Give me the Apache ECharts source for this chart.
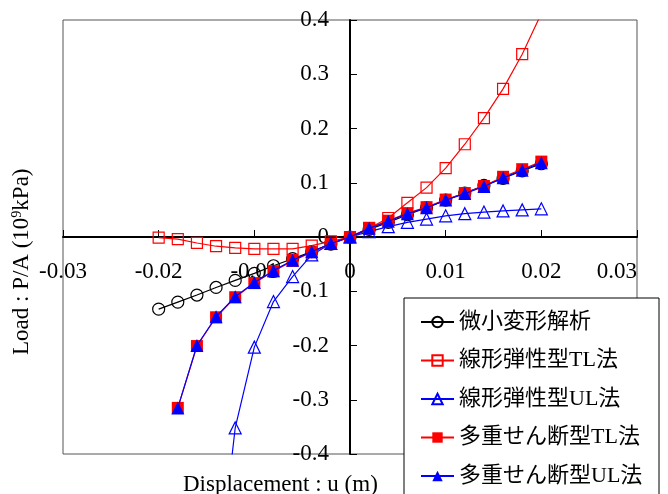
<!DOCTYPE html>
<html>
<head>
<meta charset="utf-8">
<script src="https://cdn.jsdelivr.net/npm/echarts@6/dist/echarts.min.js"></script>
<style>
html,body{margin:0;padding:0;background:#fff;}
#chart{width:668px;height:494px;}
</style>
</head>
<body>
<div id="chart"></div>
<script>
// ---- data ----
var seriesNames = ['微小変形解析', '線形弾性型TL法', '線形弾性型UL法', '多重せん断型TL法', '多重せん断型UL法'];

var xSmall = [-0.02, -0.018, -0.016, -0.014, -0.012, -0.01, -0.008, -0.006, -0.004, -0.002, 0, 0.002, 0.004, 0.006, 0.008, 0.01, 0.012, 0.014, 0.016, 0.018, 0.02];
var ySmall = [-0.133, -0.120, -0.107, -0.093, -0.080, -0.067, -0.053, -0.040, -0.027, -0.013, 0, 0.014, 0.027, 0.041, 0.054, 0.068, 0.081, 0.095, 0.108, 0.122, 0.135];

var xLinTL = [-0.02, -0.018, -0.016, -0.014, -0.012, -0.01, -0.008, -0.006, -0.004, -0.002, 0, 0.002, 0.004, 0.006, 0.008, 0.01, 0.012, 0.014, 0.016, 0.018, 0.02];
var yLinTL = [-0.001, -0.004, -0.011, -0.017, -0.020, -0.022, -0.022, -0.022, -0.016, -0.008, 0, 0.016, 0.035, 0.063, 0.091, 0.127, 0.171, 0.219, 0.273, 0.337, 0.412];

var xLinUL = [-0.014, -0.012, -0.01, -0.008, -0.006, -0.004, -0.002, 0, 0.002, 0.004, 0.006, 0.008, 0.01, 0.012, 0.014, 0.016, 0.018, 0.02];
var yLinUL = [-0.66, -0.352, -0.203, -0.119, -0.073, -0.033, -0.012, 0, 0.010, 0.019, 0.027, 0.033, 0.039, 0.043, 0.046, 0.048, 0.050, 0.052];

var xMultiTL = [-0.018, -0.016, -0.014, -0.012, -0.01, -0.008, -0.006, -0.004, -0.002, 0, 0.002, 0.004, 0.006, 0.008, 0.01, 0.012, 0.014, 0.016, 0.018, 0.02];
var yMultiTL = [-0.315, -0.201, -0.148, -0.111, -0.085, -0.063, -0.044, -0.028, -0.013, 0, 0.017, 0.030, 0.044, 0.055, 0.069, 0.081, 0.094, 0.111, 0.125, 0.139];

var xMultiUL = [-0.018, -0.016, -0.014, -0.012, -0.01, -0.008, -0.006, -0.004, -0.002, 0, 0.002, 0.004, 0.006, 0.008, 0.01, 0.012, 0.014, 0.016, 0.018, 0.02];
var yMultiUL = [-0.315, -0.200, -0.147, -0.110, -0.084, -0.062, -0.043, -0.027, -0.012, 0, 0.016, 0.029, 0.043, 0.054, 0.068, 0.080, 0.093, 0.109, 0.123, 0.137];

var xTicks = [-0.03, -0.02, -0.01, 0, 0.01, 0.02, 0.03];
var yTicks = [-0.4, -0.3, -0.2, -0.1, 0, 0.1, 0.2, 0.3, 0.4];

var xTitle = 'Displacement : u (m)';

function zip(xs, ys) { return xs.map(function (x, i) { return [x, ys[i]]; }); }
function fmt(v) { return String(+(+v).toFixed(3)); }

var serif = '"Liberation Serif", "Times New Roman", serif';
var legendFont = '"Liberation Serif", "Noto Sans CJK JP", serif';

var W = 668, H = 494;
var gridL = 63, gridR = 31, gridT = 20, gridB = 40;
var plotW = W - gridL - gridR, plotH = H - gridT - gridB;
var xMin = xTicks[0], xMax = xTicks[xTicks.length - 1];
var yMin = yTicks[0], yMax = yTicks[yTicks.length - 1];
// shift axes so they pass through the origin (labels included)
var yAxisOffset = -plotW * (0 - xMin) / (xMax - xMin);
var xAxisOffset = -plotH * (0 - yMin) / (yMax - yMin);

var chart = echarts.init(document.getElementById('chart'), null, { renderer: 'canvas' });

var option = {
  animation: false,
  backgroundColor: '#fff',
  grid: { left: gridL, right: gridR, top: gridT, bottom: gridB, show: true, borderColor: '#555', borderWidth: 1, backgroundColor: 'transparent' },
  xAxis: {
    type: 'value', min: xMin, max: xMax, interval: 0.01, position: 'bottom', offset: xAxisOffset,
    axisLine: { onZero: false, lineStyle: { color: '#000', width: 2 } },
    axisTick: { inside: true, length: 7, lineStyle: { color: '#000', width: 1 } },
    splitLine: { show: false },
    axisLabel: { margin: 23, fontFamily: serif, fontSize: 23, color: '#000', formatter: fmt, alignMaxLabel: 'right' }
  },
  yAxis: {
    type: 'value', min: yMin, max: yMax, interval: 0.1, position: 'left', offset: yAxisOffset,
    axisLine: { onZero: false, lineStyle: { color: '#000', width: 2 } },
    axisTick: { inside: true, length: 7, lineStyle: { color: '#000', width: 1 } },
    splitLine: { show: false },
    axisLabel: { margin: 21, fontFamily: serif, fontSize: 23, color: '#000', formatter: fmt }
  },
  legend: {
    orient: 'vertical', left: 420, top: 311, padding: 0,
    itemWidth: 33, itemHeight: 13, itemGap: 16.5,
    textStyle: { fontFamily: legendFont, fontSize: 22, lineHeight: 22, color: '#000' },
    data: seriesNames
  },
  graphic: [
    { type: 'rect', z: 3, shape: { x: 404, y: 298, width: 255, height: 210 }, style: { fill: '#fff', stroke: '#000', lineWidth: 1 } },
    { type: 'text', z: 3, left: 183, top: 473, style: { text: xTitle, font: '23px ' + serif, fill: '#000' } },
    { type: 'text', z: 3, x: 10, y: 355, rotation: Math.PI / 2,
      style: { text: 'Load : P/A (10{s|9}kPa)', font: '23px ' + serif, fill: '#000',
        rich: { s: { fontSize: 14, fontFamily: serif, verticalAlign: 'top', lineHeight: 23 } } } }
  ],
  series: [
    { name: seriesNames[0], type: 'line', data: zip(xSmall, ySmall), symbol: 'circle', symbolSize: 12,
      lineStyle: { color: '#000', width: 1.2 }, itemStyle: { color: 'rgba(255,255,255,0)', borderColor: '#000', borderWidth: 1.2 }, z: 2 },
    { name: seriesNames[1], type: 'line', data: zip(xLinTL, yLinTL), symbol: 'rect', symbolSize: 11,
      lineStyle: { color: '#ff0000', width: 1.2 }, itemStyle: { color: 'rgba(255,255,255,0)', borderColor: '#ff0000', borderWidth: 1.2 }, z: 3 },
    { name: seriesNames[2], type: 'line', data: zip(xLinUL, yLinUL), symbol: 'triangle', symbolSize: 12,
      lineStyle: { color: '#0000ff', width: 1.2 }, itemStyle: { color: 'rgba(255,255,255,0)', borderColor: '#0000ff', borderWidth: 1.2 }, z: 4 },
    { name: seriesNames[3], type: 'line', data: zip(xMultiTL, yMultiTL), symbol: 'rect', symbolSize: 12,
      lineStyle: { color: '#ff0000', width: 1.2 }, itemStyle: { color: '#ff0000', borderColor: '#ff0000', borderWidth: 0 }, z: 5 },
    { name: seriesNames[4], type: 'line', data: zip(xMultiUL, yMultiUL), symbol: 'triangle', symbolSize: 13,
      lineStyle: { color: '#0000ff', width: 1.2 }, itemStyle: { color: '#0000ff', borderColor: '#0000ff', borderWidth: 0 }, z: 6 }
  ]
};
chart.setOption(option);
</script>
</body>
</html>
